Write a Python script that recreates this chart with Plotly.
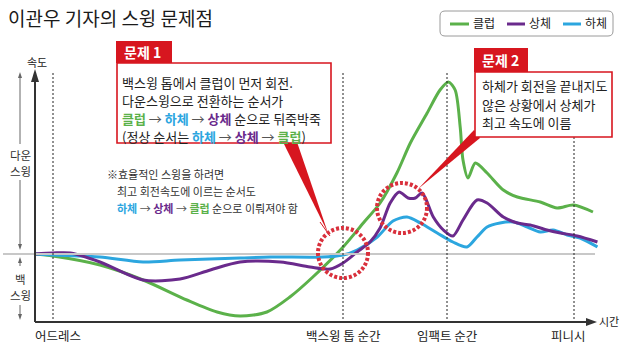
import plotly.graph_objects as go

# ---------------- data (time 0-100, speed relative to 0) ----------------
club_t = [0, 3.2, 11.6, 19.3, 27.1, 32.5, 36.6, 41.4, 45.5, 49.6, 55, 58.6, 61.6, 64.6, 67, 70,
          72.3, 73.8, 75, 75.9, 76.4, 77.3, 78.6, 80.7, 83.6, 86.1, 90.2, 93.2, 96.1, 99.6]
club_v = [0, -1, -5.5, -13, -23, -29, -31, -29, -21.5, -11.5, 3.5, 15.5, 25.5, 40.5, 55.5, 70.5,
          82, 86, 82, 63.5, 47, 38, 45.5, 40.5, 32, 28.5, 26, 23, 24.5, 21]

upper_t = [0, 3.2, 6.3, 11.6, 19.3, 25.9, 31.3, 36.6, 43.8, 49.1, 52.7, 55, 57.5, 59.8, 61.6, 63.4,
           65, 66.6, 67.9, 69.1, 71.1, 72.9, 74.6, 76.4, 78.9, 80.7, 83.6, 86.1, 88.4, 91.4, 93.8, 96.8, 100.4]
upper_v = [0, 0.5, 0.5, -4, -13, -12.5, -8, -4, -4, -6.5, -7.5, -4.5, 1, 6, 13, 25.5,
           31, 28, 28, 30.5, 18.5, 12, 9, 17, 27, 25.5, 18.5, 15.5, 14.5, 12, 10.5, 9, 6]

lower_t = [0, 3.2, 11.6, 19.3, 25.9, 36.6, 42, 51.4, 55, 57.5, 61.1, 63.9, 66.4, 68.8, 71.8, 74.6,
           77.1, 78.9, 80.7, 83, 85.4, 87.9, 90.2, 92.5, 95, 97.3, 100.4]
lower_v = [0, -0.5, -1.5, -4, -3, -2, -1.5, -1.5, -0.5, 2, 8.5, 16.5, 18.5, 15.5, 10.5, 6,
           3.5, 8.5, 13.5, 15.5, 16, 13.5, 11, 12, 9.5, 8, 3.5]

series_names = ["클럽", "상체", "하체"]
phase_t = [3.2, 55, 73.6, 95.2]
phase_labels = ["어드레스", "백스윙 톱 순간", "임팩트 순간", "피니시"]

# ---------------- style ----------------
FONT = "Noto Sans CJK KR"
GREEN = "#5bb14a"
PURPLE = "#6a2a8c"
BLUE = "#2ca6df"
RED = "#d7161f"
DARK = "#333333"

W, H = 620, 358
L, R, T, B = 35, 598, 73, 322


def px(x):
    return (x - L) / (R - L)


def py(y):
    return (B - y) / (B - T)


fig = go.Figure()
for t, v, name, col in [(club_t, club_v, series_names[0], GREEN),
                        (lower_t, lower_v, series_names[2], BLUE),
                        (upper_t, upper_v, series_names[1], PURPLE)]:
    fig.add_trace(go.Scatter(x=t, y=v, mode="lines", name=name,
                             line=dict(color=col, width=3, shape="spline", smoothing=0.8),
                             showlegend=False, hoverinfo="skip"))

shapes = []


def line(x0, y0, x1, y1, color, width=1, dash=None):
    d = dict(type="line", xref="paper", yref="paper", x0=px(x0), y0=py(y0), x1=px(x1), y1=py(y1),
             line=dict(color=color, width=width))
    if dash:
        d["line"]["dash"] = dash
    shapes.append(d)


def poly(pts, fill, lcol=None, lw=0):
    p = "M " + " L ".join(f"{px(a):.5f},{py(b):.5f}" for a, b in pts) + " Z"
    shapes.append(dict(type="path", xref="paper", yref="paper", path=p, fillcolor=fill,
                       line=dict(color=lcol or fill, width=lw)))


def rect(x0, y0, x1, y1, fill, lcol, lw):
    shapes.append(dict(type="rect", xref="paper", yref="paper", x0=px(x0), y0=py(y0), x1=px(x1), y1=py(y1),
                       fillcolor=fill, line=dict(color=lcol, width=lw)))


def circle(cx, cy, r):
    shapes.append(dict(type="circle", xref="paper", yref="paper", x0=px(cx - r), y0=py(cy + r),
                       x1=px(cx + r), y1=py(cy - r), line=dict(color="#d9303c", width=4, dash="3px,2px")))


# zero line
line(3, 254, 595, 254, "#c8c8c8", 2)
# phase dotted lines
for xp in [53, 343, 447, 574]:
    line(xp, 73, xp, 322, "#222", 1, "2px,2px")

# axes
line(35, 322, 35, 80, DARK, 2)
poly([(35, 69), (31, 82), (39, 82)], DARK)
line(35, 322, 588, 322, DARK, 2)
poly([(597, 322), (586, 318), (586, 326)], DARK)

# left side arrows
AC = "#666666"
line(20, 76, 20, 144, AC, 1)
line(20, 180, 20, 246, AC, 1)
poly([(20, 72), (18, 78), (22, 78)], AC)
poly([(20, 250), (18, 244), (22, 244)], AC)
line(20, 260, 20, 266, AC, 1)
line(20, 305, 20, 316, AC, 1)
poly([(20, 257), (18, 263), (22, 263)], AC)
poly([(20, 320), (18, 314), (22, 314)], AC)

# callout pointers
poly([(283, 142), (297, 142), (328, 233)], RED)
line(320, 222, 330, 236, RED, 1)
poly([(474, 130), (480, 138), (418, 189)], RED)

# callout boxes
rect(117, 63, 331, 143, "white", RED, 1.6)
rect(116, 41, 172, 63, RED, RED, 0)
rect(475, 72, 612, 137, "white", RED, 1.6)
rect(474, 48, 528, 72, RED, RED, 0)

# circles
circle(343, 253, 25)
circle(402, 208, 25)

# legend box (rounded)
lx0, ly0, lx1, ly1, rr = 440, 11, 613, 36, 5
pts = (f"M {px(lx0 + rr)},{py(ly0)} L {px(lx1 - rr)},{py(ly0)} Q {px(lx1)},{py(ly0)} {px(lx1)},{py(ly0 + rr)} "
       f"L {px(lx1)},{py(ly1 - rr)} Q {px(lx1)},{py(ly1)} {px(lx1 - rr)},{py(ly1)} "
       f"L {px(lx0 + rr)},{py(ly1)} Q {px(lx0)},{py(ly1)} {px(lx0)},{py(ly1 - rr)} "
       f"L {px(lx0)},{py(ly0 + rr)} Q {px(lx0)},{py(ly0)} {px(lx0 + rr)},{py(ly0)} Z")
shapes.append(dict(type="path", xref="paper", yref="paper", path=pts, fillcolor="white",
                   line=dict(color="#9a9a9a", width=1)))
for (a, b), col in zip([(450, 469), (507, 525), (563, 581)], [GREEN, PURPLE, BLUE]):
    line(a, 24, b, 24, col, 3)

annotations = []


def txt(x, y, s, size=13, color="#222", xanchor="left", bg=None):
    d = dict(x=px(x), y=py(y), xref="paper", yref="paper", text=s, showarrow=False,
             xanchor=xanchor, yanchor="middle", font=dict(family=FONT, size=size, color=color))
    if bg:
        d["bgcolor"] = bg
    annotations.append(d)


def c(word, col):
    return f"<b><span style='color:{col}'>{word}</span></b>"


ARW = "<span style='color:#555'> → </span>"

txt(6, 18, "이관우 기자의 스윙 문제점", 19, "#1a1a1a")
for xs, name in zip([471, 527, 583], series_names):
    txt(xs, 23, name, 12, "#222")

txt(37, 62, "속도", 11, "#222", "center")
txt(20, 155, "다운", 11.5, "#333", "center")
txt(20, 171, "스윙", 11.5, "#333", "center")
txt(20, 279, "백", 11.5, "#333", "center")
txt(20, 295, "스윙", 11.5, "#333", "center")
txt(597, 321, "시간", 11, "#222")

for tt, lab in zip(phase_t, phase_labels):
    xpix = L + tt * (R - L) / 100.5
    if lab == "어드레스":
        txt(33, 335, lab, 12.5, "#222")
    else:
        txt(xpix, 335, lab, 12.5, "#222", "center")

txt(122, 52, "<b>문제 1</b>", 14, "white")
txt(120, 82, "백스윙 톱에서 클럽이 먼저 회전.", 13, "#222")
txt(120, 100, "다운스윙으로 전환하는 순서가", 13, "#222")
txt(120, 118, c("클럽", GREEN) + ARW + c("하체", BLUE) + ARW + c("상체", PURPLE) + " 순으로 뒤죽박죽", 13, "#222")
txt(120, 136, "(정상 순서는 " + c("하체", BLUE) + ARW + c("상체", PURPLE) + ARW + c("클럽", GREEN) + ")", 13, "#222")

txt(480, 60, "<b>문제 2</b>", 14, "white")
txt(480, 85, "하체가 회전을 끝내지도", 13, "#222")
txt(480, 104, "않은 상황에서 상체가", 13, "#222")
txt(480, 122, "최고 속도에 이름", 13, "#222")

txt(105, 174, "※효율적인 스윙을 하려면", 11, "#333")
txt(115, 191, "최고 회전속도에 이르는 순서도", 11, "#333")
txt(115, 208, c("하체", BLUE) + ARW + c("상체", PURPLE) + ARW + c("클럽", GREEN) + " 순으로 이뤄져야 함", 11, "#333")

fig.update_layout(
    width=W, height=H, autosize=False,
    margin=dict(l=L, r=W - R, t=T, b=H - B, pad=0),
    paper_bgcolor="white", plot_bgcolor="white",
    xaxis=dict(range=[0, 100.5], visible=False, fixedrange=True),
    yaxis=dict(range=[-34, 90.5], visible=False, fixedrange=True),
    shapes=shapes, annotations=annotations, showlegend=False,
    font=dict(family=FONT),
)
fig.write_html("out.html", config={"displayModeBar": False},
               post_script="document.body.style.margin='0';document.body.style.overflow='hidden';")
